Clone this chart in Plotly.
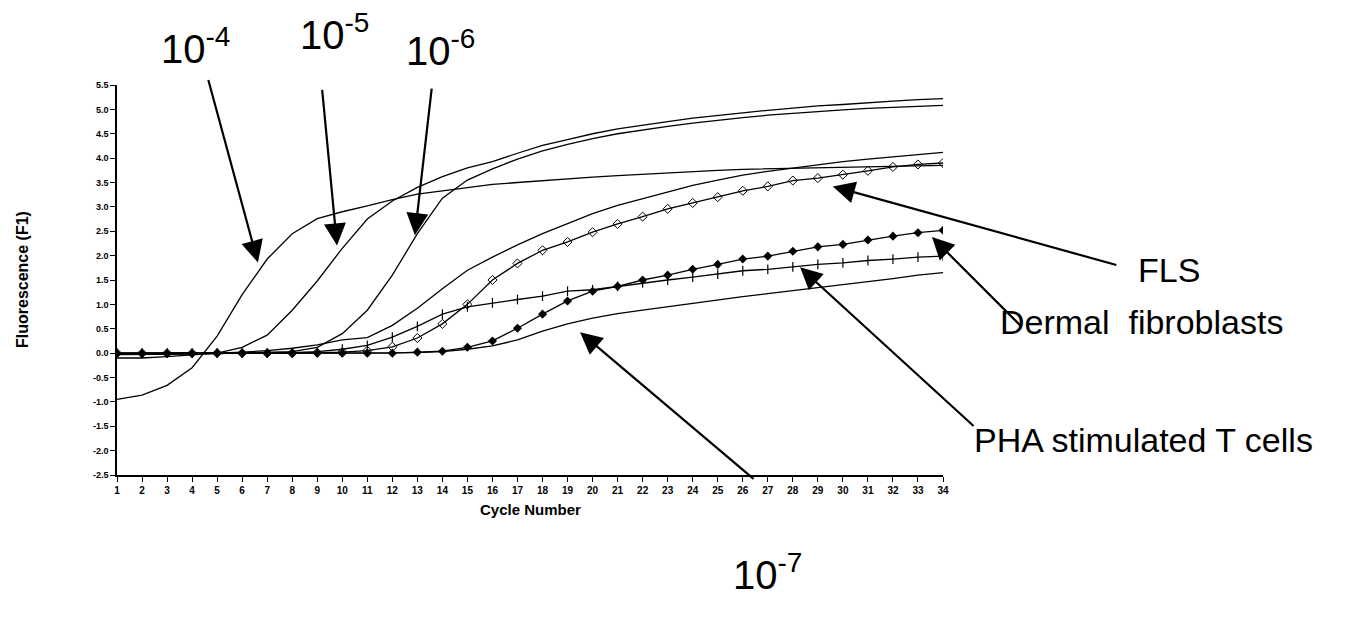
import plotly.graph_objects as go

cycles = list(range(1, 35))

std_1e4 = [-0.95, -0.86, -0.66, -0.30, 0.35, 1.20, 1.93, 2.45, 2.76, 2.90, 3.02, 3.15,
           3.26, 3.33, 3.40, 3.46, 3.50, 3.54, 3.58, 3.61, 3.64, 3.67, 3.70, 3.73,
           3.75, 3.77, 3.78, 3.79, 3.80, 3.81, 3.82, 3.83, 3.84, 3.85]
std_1e5 = [-0.02, -0.02, -0.02, -0.01, 0.00, 0.12, 0.37, 0.88, 1.48, 2.15, 2.75, 3.12,
           3.40, 3.62, 3.80, 3.93, 4.10, 4.26, 4.38, 4.50, 4.60, 4.68, 4.75, 4.82,
           4.88, 4.93, 4.98, 5.03, 5.07, 5.10, 5.14, 5.17, 5.20, 5.22]
std_1e6 = [-0.03, -0.03, -0.02, -0.02, -0.01, 0.00, 0.01, 0.03, 0.12, 0.40, 0.88, 1.60,
           2.45, 3.18, 3.55, 3.78, 3.98, 4.15, 4.28, 4.40, 4.50, 4.58, 4.65, 4.72,
           4.78, 4.83, 4.88, 4.92, 4.96, 4.99, 5.02, 5.04, 5.06, 5.08]
std_other = [-0.10, -0.10, -0.07, -0.03, 0.00, 0.02, 0.05, 0.10, 0.17, 0.27, 0.32, 0.57,
             0.92, 1.32, 1.70, 1.97, 2.22, 2.45, 2.66, 2.86, 3.03, 3.17, 3.30, 3.44,
             3.55, 3.65, 3.73, 3.80, 3.87, 3.93, 3.98, 4.03, 4.08, 4.12]
std_1e7 = [0.00, 0.00, 0.00, 0.00, 0.00, 0.00, 0.00, 0.00, 0.00, 0.00, 0.00, 0.00,
           0.01, 0.03, 0.08, 0.15, 0.27, 0.45, 0.60, 0.72, 0.81, 0.88, 0.95, 1.02,
           1.10, 1.16, 1.22, 1.28, 1.35, 1.40, 1.47, 1.53, 1.60, 1.65]
fls = [0.00, 0.00, 0.00, 0.00, 0.00, 0.00, 0.00, 0.00, 0.01, 0.02, 0.05, 0.13,
       0.31, 0.60, 1.00, 1.50, 1.84, 2.11, 2.28, 2.48, 2.65, 2.80, 2.96, 3.08,
       3.20, 3.33, 3.42, 3.54, 3.59, 3.66, 3.74, 3.82, 3.87, 3.90]
dermal = [-0.01, -0.01, -0.01, -0.01, 0.00, 0.00, 0.00, 0.00, 0.00, 0.00, 0.00, 0.00,
          0.02, 0.04, 0.12, 0.25, 0.51, 0.80, 1.07, 1.27, 1.37, 1.50, 1.60, 1.72,
          1.82, 1.93, 1.99, 2.09, 2.18, 2.23, 2.32, 2.40, 2.47, 2.52]
pha = [0.00, 0.00, 0.00, 0.00, 0.00, 0.00, 0.00, 0.01, 0.03, 0.08, 0.16, 0.33,
       0.55, 0.80, 0.95, 1.03, 1.10, 1.17, 1.27, 1.30, 1.37, 1.44, 1.50, 1.56,
       1.62, 1.69, 1.72, 1.77, 1.82, 1.85, 1.90, 1.93, 1.97, 1.99]

y_ticks = [5.5, 5.0, 4.5, 4.0, 3.5, 3.0, 2.5, 2.0, 1.5, 1.0, 0.5, 0.0,
           -0.5, -1.0, -1.5, -2.0, -2.5]

fig = go.Figure()
line = dict(color="black", width=1.3)
for ys in [std_1e4, std_1e5, std_1e6, std_other, std_1e7]:
    fig.add_trace(go.Scatter(x=cycles, y=ys, mode="lines", line=line, showlegend=False))
fig.add_trace(go.Scatter(x=cycles, y=fls, mode="lines+markers", line=line,
                         marker=dict(symbol="diamond-open", size=7, color="black",
                                     line=dict(width=1, color="black")),
                         showlegend=False))
fig.add_trace(go.Scatter(x=cycles, y=pha, mode="lines+markers", line=line,
                         marker=dict(symbol="line-ns", size=7, color="black",
                                     line=dict(width=1.2, color="black")),
                         showlegend=False))
fig.add_trace(go.Scatter(x=cycles, y=dermal, mode="lines+markers", line=line,
                         marker=dict(symbol="diamond", size=7, color="black"),
                         showlegend=False))

FONT = "Liberation Sans, Arial, sans-serif"
big = dict(family=FONT, size=40, color="black")
lab = dict(family=FONT, size=34, color="black")

annots = [
    dict(x=6.63, y=1.86, ax=-50, ay=-184),
    dict(x=9.79, y=2.21, ax=-15, ay=-157),
    dict(x=12.9, y=2.42, ax=17, ay=-148),
    dict(x=29.6, y=3.42, ax=285, ay=79),
    dict(x=33.56, y=2.38, ax=91, ay=91),
    dict(x=28.29, y=1.76, ax=175, ay=160),
    dict(x=19.5, y=0.43, ax=175, ay=148),
]
for a in annots:
    fig.add_annotation(x=a["x"], y=a["y"], ax=a["ax"], ay=a["ay"], xref="x", yref="y",
                       text="", showarrow=True, arrowhead=2, arrowsize=2.0,
                       arrowwidth=2.2, arrowcolor="black", standoff=0)

# plot area in page pixels: left 117, right 943, top 85, bottom 475
def px_annot(text, xp, yp, font, anchor="center", angle=0):
    fig.add_annotation(x=(xp - 117) / 826, y=(475 - yp) / 390, xref="paper", yref="paper",
                       text=text, showarrow=False, font=font, xanchor=anchor,
                       yanchor="middle", textangle=angle)

px_annot("10<sup>-4</sup>", 195, 46, big)
px_annot("10<sup>-5</sup>", 334, 32, big)
px_annot("10<sup>-6</sup>", 440, 48, big)
px_annot("10<sup>-7</sup>", 767, 572, big)
px_annot("FLS", 1136, 270, lab, "left")
px_annot("Dermal  fibroblasts", 998, 322, lab, "left")
px_annot("PHA stimulated T cells", 972, 440, lab, "left")

px_annot("<b>Fluorescence (F1)</b>", 22, 280, dict(family=FONT, size=16, color="black"),
         angle=-90)
px_annot("<b>Cycle Number</b>", 530, 510, dict(family=FONT, size=15, color="black"))

# page has an 8px body margin: the figure starts at (8, 8)
W, H = 1364, 612
fig.update_layout(
    width=W, height=H,
    margin=dict(l=117 - 8, r=8 + W - 943, t=85 - 8, b=8 + H - 475),
    plot_bgcolor="white", paper_bgcolor="white",
    xaxis=dict(range=[1, 34], tickvals=cycles, ticktext=[str(c) for c in cycles],
               showgrid=False, zeroline=False, showline=True, linecolor="black",
               linewidth=1.5, ticks="outside", ticklen=5, tickwidth=1.3, tickcolor="black",
               tickfont=dict(family=FONT, size=10, color="black", weight="bold")),
    yaxis=dict(range=[-2.5, 5.5], tickvals=y_ticks, ticktext=[f"{v:.1f}" for v in y_ticks],
               showgrid=False, zeroline=False, showline=True, linecolor="black",
               linewidth=1.5, ticks="outside", ticklen=5, tickwidth=1.3, tickcolor="black",
               tickfont=dict(family=FONT, size=9, color="black", weight="bold")),
)
fig.write_html("out.html")
